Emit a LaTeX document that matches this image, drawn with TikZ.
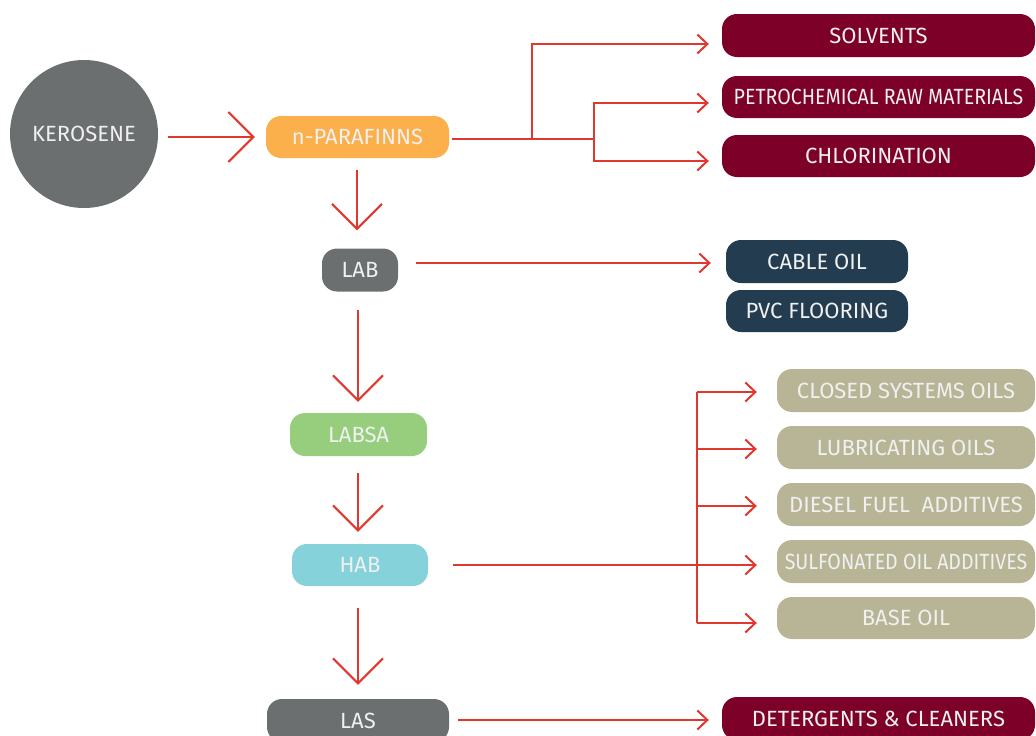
\documentclass[tikz,border=0pt]{standalone}
\usepackage{fontspec}
\setmainfont{Fira Sans}
\newfontfamily\narrowfont{Fira Sans}[FakeStretch=0.89]
\usetikzlibrary{arrows.meta,calc}
\definecolor{maroon}{HTML}{7D0028}
\definecolor{slate}{HTML}{233C4F}
\definecolor{khaki}{HTML}{B8B596}
\definecolor{dgray}{HTML}{6B6F70}
\definecolor{orng}{HTML}{FBB04C}
\definecolor{lgreen}{HTML}{97CE7E}
\definecolor{lcyan}{HTML}{86D2DA}
\definecolor{ared}{HTML}{E0382E}
\definecolor{txt}{HTML}{F0F0F0}
\tikzset{
  box/.style={rectangle, rounded corners=15pt, inner sep=0pt, text=txt,
    font=\fontsize{22}{26}\selectfont},
  bigarrow/.style={draw=ared, line width=2pt, -{Straight Barb[length=25pt,width=50pt]}},
  smallarrow/.style={draw=ared, line width=2pt, -{Straight Barb[length=10pt,width=19pt]}},
  flow/.style={draw=ared, line width=2pt},
}
\begin{document}
\begin{tikzpicture}[x=1pt,y=-1pt]
\useasboundingbox (0,0) rectangle (1036,736);
% main column
\node[circle, fill=dgray, minimum size=148pt, inner sep=0pt, text=txt, font=\fontsize{22}{26}\selectfont] (ker) at (84,134) {KEROSENE};
\node[box, fill=orng, minimum width=183pt, minimum height=42pt] (npar) at (357.5,137) {n-PARAFINNS};
\node[box, fill=dgray, minimum width=76pt, minimum height=43pt] (lab) at (360,270) {LAB};
\node[box, fill=lgreen, minimum width=137pt, minimum height=43pt] (labsa) at (358.5,434.5) {LABSA};
\node[box, fill=lcyan, minimum width=136pt, minimum height=42pt] (hab) at (360,565) {HAB};
\node[box, fill=dgray, minimum width=182pt, minimum height=43pt] (las) at (358,720.5) {LAS};
% right column
\node[box, fill=maroon, minimum width=313pt, minimum height=43pt] (solv) at (878.5,35.5) {SOLVENTS};
\node[box, fill=maroon, minimum width=313pt, minimum height=42pt] (petro) at (878.5,97) {\narrowfont PETROCHEMICAL RAW MATERIALS};
\node[box, fill=maroon, minimum width=313pt, minimum height=42pt] (chlor) at (878.5,156) {CHLORINATION};
\node[box, fill=slate, minimum width=182pt, minimum height=43pt] (cable) at (817,261.5) {CABLE OIL};
\node[box, fill=slate, minimum width=182pt, minimum height=42pt] (pvc) at (817,311) {PVC FLOORING};
\node[box, fill=khaki, minimum width=258pt, minimum height=43pt] (closed) at (906,390.5) {CLOSED SYSTEMS OILS};
\node[box, fill=khaki, minimum width=258pt, minimum height=43pt] (lubr) at (906,447.5) {LUBRICATING OILS};
\node[box, fill=khaki, minimum width=258pt, minimum height=43pt] (diesel) at (906,504.5) {DIESEL FUEL\ \ ADDITIVES};
\node[box, fill=khaki, minimum width=258pt, minimum height=43pt] (sulf) at (906,561.5) {\narrowfont SULFONATED OIL ADDITIVES};
\node[box, fill=khaki, minimum width=258pt, minimum height=42pt] (base) at (906,618) {BASE OIL};
\node[box, fill=maroon, minimum width=313pt, minimum height=43pt] (det) at (878.5,718.5) {DETERGENTS \& CLEANERS};
% junction points
\coordinate (j1) at (532,139);
\coordinate (j2) at (594,139);
\coordinate (bt) at (697,392);
\coordinate (bb) at (697,623);
% main flow arrows
\draw[bigarrow] ($(ker.east |- npar.west)+(10,0)$) -- ($(npar.west)+(-11,0)$);
\draw[bigarrow] ($(npar.south)+(-0.5,12)$) -- ($(npar.south |- lab.north)+(-0.5,-18)$);
\draw[bigarrow] ($(lab.south)+(-2,18)$) -- ($(lab.south |- labsa.north)+(-2,-11)$);
\draw[bigarrow] ($(labsa.south)+(-0.5,17)$) -- ($(labsa.south |- hab.north)+(-0.5,-12)$);
\draw[bigarrow] ($(hab.south)+(-2,22)$) -- ($(hab.south |- las.north)+(-2,-14)$);
% n-parafinns branches
\draw[flow] ($(npar.east)+(3,2)$) -- (j2);
\draw[smallarrow] (j1) |- ($(solv.west)+(-13,8.5)$);
\draw[smallarrow] (j2) |- ($(petro.west)+(-13,6)$);
\draw[smallarrow] (j2) |- ($(chlor.west)+(-13,5)$);
% LAB branch
\draw[smallarrow] ($(lab.east |- cable.west)+(18,1.5)$) -- ($(cable.west)+(-15,1.5)$);
% HAB branches
\draw[flow] ($(hab.east)+(25,0)$) -- (bt |- hab.east);
\draw[flow] (bt) -- (bb);
\draw[smallarrow] (bt) -- ($(closed.west)+(-20,1.5)$);
\draw[smallarrow] (bt |- lubr.west) ++(0,1.5) -- ($(lubr.west)+(-20,1.5)$);
\draw[smallarrow] (bt |- diesel.west) ++(0,1.5) -- ($(diesel.west)+(-20,1.5)$);
\draw[smallarrow] (bt |- hab.east) -- ($(sulf.west |- hab.east)+(-20,0)$);
\draw[smallarrow] (bb) -- ($(base.west)+(-20,5)$);
% LAS branch
\draw[smallarrow] ($(las.east |- det.west)+(9,1.5)$) -- ($(det.west)+(-13,1.5)$);
\end{tikzpicture}
\end{document}
